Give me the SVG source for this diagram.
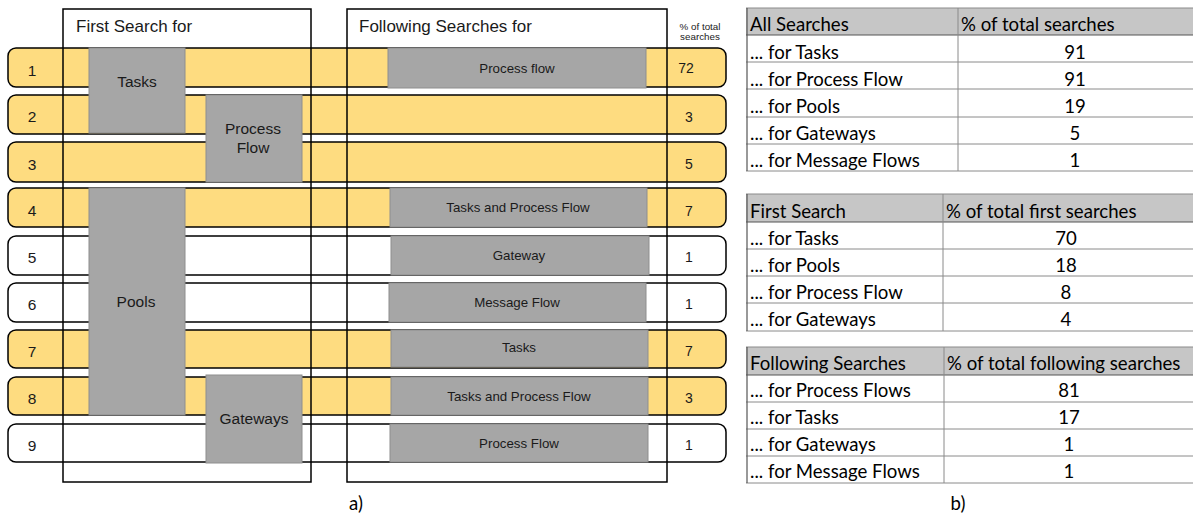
<svg xmlns="http://www.w3.org/2000/svg" width="1193" height="515" viewBox="0 0 1193 515">
  <style>
    .row { stroke: #000; stroke-width: 1.5; }
    .hit { fill: #FEDC80; }
    .miss { fill: #FFFFFF; }
    .frame { fill: none; stroke: #000; stroke-width: 1.5; }
    .blk { fill: #A6A6A6; stroke: #8E8E8E; stroke-width: 1; }
    .sans { font-family: "Liberation Sans", Arial, sans-serif; fill: #1a1a1a; }
    .num { font-size: 15.5px; text-anchor: middle; }
    .pct { font-size: 14px; text-anchor: middle; }
    .big { font-size: 15.5px; text-anchor: middle; }
    .small { font-size: 13.3px; text-anchor: middle; }
    .head { font-size: 17px; }
    .tbl { font-family: Lato, "Open Sans", sans-serif; font-size: 18.6px; fill: #000; }
    .mid { text-anchor: middle; }
    .thead { fill: #C6C6C6; }
    .tline { stroke: #8A8A8A; stroke-width: 1; }
    .tdark { stroke: #555; stroke-width: 1.2; }
  </style>

  <!-- a) search sequences -->
  <g id="rows">
    <g id="row-1"><rect class="row hit" x="8" y="48" width="718" height="39" rx="8"/><text class="sans num" x="32" y="76">1</text><text class="sans pct" x="686" y="73">72</text></g>
    <g id="row-2"><rect class="row hit" x="8" y="95" width="718" height="39" rx="8"/><text class="sans num" x="32" y="122">2</text><text class="sans pct" x="689" y="122">3</text></g>
    <g id="row-3"><rect class="row hit" x="8" y="142" width="718" height="40" rx="8"/><text class="sans num" x="32" y="170">3</text><text class="sans pct" x="689" y="169">5</text></g>
    <g id="row-4"><rect class="row hit" x="8" y="188" width="718" height="39" rx="8"/><text class="sans num" x="32" y="216">4</text><text class="sans pct" x="689" y="216">7</text></g>
    <g id="row-5"><rect class="row miss" x="8" y="236" width="718" height="39" rx="8"/><text class="sans num" x="32" y="263">5</text><text class="sans pct" x="689" y="262">1</text></g>
    <g id="row-6"><rect class="row miss" x="8" y="283" width="718" height="39" rx="8"/><text class="sans num" x="32" y="310">6</text><text class="sans pct" x="689" y="309">1</text></g>
    <g id="row-7"><rect class="row hit" x="8" y="330" width="718" height="38" rx="8"/><text class="sans num" x="32" y="357">7</text><text class="sans pct" x="689" y="356">7</text></g>
    <g id="row-8"><rect class="row hit" x="8" y="377" width="718" height="38" rx="8"/><text class="sans num" x="32" y="404">8</text><text class="sans pct" x="689" y="403">3</text></g>
    <g id="row-9"><rect class="row miss" x="8" y="424" width="718" height="38" rx="8"/><text class="sans num" x="32" y="451">9</text><text class="sans pct" x="689" y="450">1</text></g>
  </g>

  <g id="first-search">
    <g id="first-tasks"><rect class="blk" x="89" y="48" width="96" height="85"/><text class="sans big" x="137" y="87">Tasks</text></g>
    <g id="first-process-flow"><rect class="blk" x="206" y="95" width="96" height="87"/><text class="sans big" x="253" y="134">Process</text><text class="sans big" x="253" y="153">Flow</text></g>
    <g id="first-pools"><rect class="blk" x="89" y="188" width="96" height="227"/><text class="sans big" x="136" y="307">Pools</text></g>
    <g id="first-gateways"><rect class="blk" x="206" y="375" width="96" height="88"/><text class="sans big" x="254" y="424">Gateways</text></g>
  </g>

  <g id="following-searches">
    <g id="next-1"><rect class="blk" x="388" y="48" width="258" height="40"/><text class="sans small" x="517" y="73">Process flow</text></g>
    <g id="next-4"><rect class="blk" x="390" y="188" width="257" height="39"/><text class="sans small" x="518" y="212">Tasks and Process Flow</text></g>
    <g id="next-5"><rect class="blk" x="391" y="236" width="258" height="39"/><text class="sans small" x="519" y="260">Gateway</text></g>
    <g id="next-6"><rect class="blk" x="389" y="283" width="257" height="39"/><text class="sans small" x="517" y="307">Message Flow</text></g>
    <g id="next-7"><rect class="blk" x="391" y="330" width="257" height="37"/><text class="sans small" x="519" y="352">Tasks</text></g>
    <g id="next-8"><rect class="blk" x="391" y="377" width="257" height="38"/><text class="sans small" x="519" y="401">Tasks and Process Flow</text></g>
    <g id="next-9"><rect class="blk" x="390" y="424" width="258" height="38"/><text class="sans small" x="519" y="448">Process Flow</text></g>
  </g>

  <g id="columns">
    <g id="col-first"><rect class="frame" x="63" y="9" width="248" height="473"/><text class="sans head" x="76" y="32">First Search for</text></g>
    <g id="col-following"><rect class="frame" x="347" y="9" width="320" height="473"/><text class="sans head" x="359" y="32">Following Searches for</text></g>
    <g id="col-percent"><text class="sans" font-size="9.8" text-anchor="middle" x="700" y="29.5">% of total</text><text class="sans" font-size="9.8" text-anchor="middle" x="700" y="40">searches</text></g>
  </g>
  <text class="tbl mid" x="356" y="510" font-size="21">a)</text>

  <!-- b) summary tables -->
  <g id="table-all">
    <rect class="thead" x="746" y="8" width="447" height="27"/>
    <line class="tline" x1="746" y1="8" x2="1193" y2="8"/>
    <line class="tdark" x1="746" y1="35" x2="1193" y2="35"/>
    <line class="tline" x1="746" y1="62" x2="1193" y2="62"/>
    <line class="tline" x1="746" y1="89" x2="1193" y2="89"/>
    <line class="tline" x1="746" y1="117" x2="1193" y2="117"/>
    <line class="tline" x1="746" y1="144" x2="1193" y2="144"/>
    <line class="tline" x1="746" y1="171" x2="1193" y2="171"/>
    <line class="tdark" x1="747" y1="8" x2="747" y2="171"/>
    <line class="tline" x1="958" y1="8" x2="958" y2="171"/>
    <text class="tbl" x="750" y="31">All Searches</text>
    <text class="tbl" x="961" y="31">% of total searches</text>
    <text class="tbl" x="750" y="59">... for Tasks</text><text class="tbl mid" x="1075" y="59">91</text>
    <text class="tbl" x="750" y="86">... for Process Flow</text><text class="tbl mid" x="1075" y="86">91</text>
    <text class="tbl" x="750" y="113">... for Pools</text><text class="tbl mid" x="1075" y="113">19</text>
    <text class="tbl" x="750" y="140">... for Gateways</text><text class="tbl mid" x="1075" y="140">5</text>
    <text class="tbl" x="750" y="167">... for Message Flows</text><text class="tbl mid" x="1075" y="167">1</text>
  </g>

  <g id="table-first">
    <rect class="thead" x="746" y="194" width="447" height="28"/>
    <line class="tline" x1="746" y1="194" x2="1193" y2="194"/>
    <line class="tdark" x1="746" y1="222" x2="1193" y2="222"/>
    <line class="tline" x1="746" y1="249" x2="1193" y2="249"/>
    <line class="tline" x1="746" y1="276" x2="1193" y2="276"/>
    <line class="tline" x1="746" y1="303" x2="1193" y2="303"/>
    <line class="tline" x1="746" y1="331" x2="1193" y2="331"/>
    <line class="tdark" x1="747" y1="194" x2="747" y2="331"/>
    <line class="tline" x1="943" y1="194" x2="943" y2="331"/>
    <text class="tbl" x="750" y="218">First Search</text>
    <text class="tbl" x="946" y="218">% of total first searches</text>
    <text class="tbl" x="750" y="245">... for Tasks</text><text class="tbl mid" x="1066" y="245">70</text>
    <text class="tbl" x="750" y="272">... for Pools</text><text class="tbl mid" x="1066" y="272">18</text>
    <text class="tbl" x="750" y="299">... for Process Flow</text><text class="tbl mid" x="1066" y="299">8</text>
    <text class="tbl" x="750" y="326">... for Gateways</text><text class="tbl mid" x="1066" y="326">4</text>
  </g>

  <g id="table-following">
    <rect class="thead" x="746" y="347" width="447" height="28"/>
    <line class="tline" x1="746" y1="347" x2="1193" y2="347"/>
    <line class="tdark" x1="746" y1="375" x2="1193" y2="375"/>
    <line class="tline" x1="746" y1="402" x2="1193" y2="402"/>
    <line class="tline" x1="746" y1="429" x2="1193" y2="429"/>
    <line class="tline" x1="746" y1="456" x2="1193" y2="456"/>
    <line class="tline" x1="746" y1="483" x2="1193" y2="483"/>
    <line class="tdark" x1="747" y1="347" x2="747" y2="483"/>
    <line class="tline" x1="944" y1="347" x2="944" y2="483"/>
    <text class="tbl" x="750" y="370">Following Searches</text>
    <text class="tbl" x="947" y="370">% of total following searches</text>
    <text class="tbl" x="750" y="397">... for Process Flows</text><text class="tbl mid" x="1069" y="397">81</text>
    <text class="tbl" x="750" y="424">... for Tasks</text><text class="tbl mid" x="1069" y="424">17</text>
    <text class="tbl" x="750" y="451">... for Gateways</text><text class="tbl mid" x="1069" y="451">1</text>
    <text class="tbl" x="750" y="478">... for Message Flows</text><text class="tbl mid" x="1069" y="478">1</text>
  </g>
  <text class="tbl mid" x="958" y="510" font-size="21">b)</text>
</svg>
